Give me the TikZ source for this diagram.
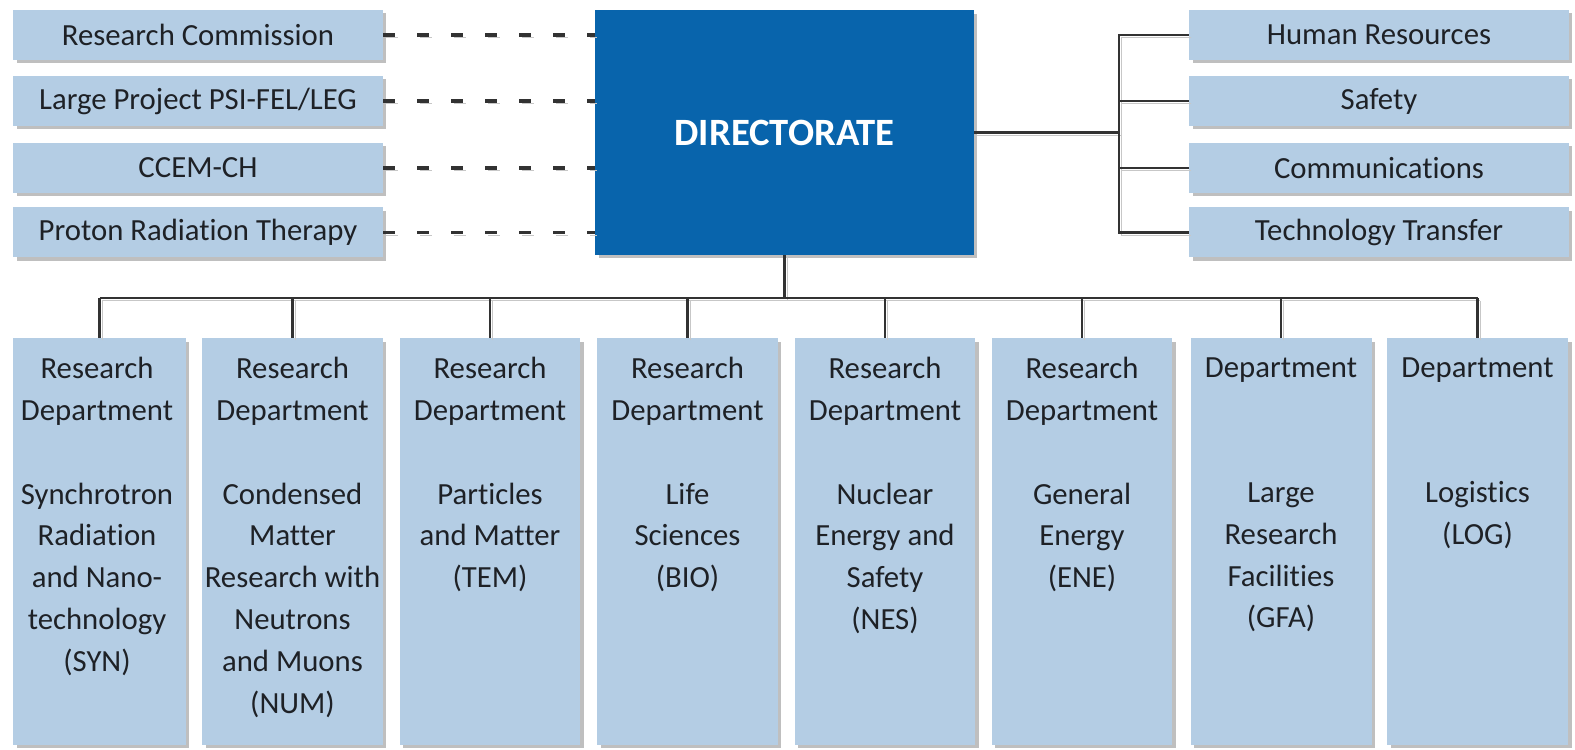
\documentclass[tikz,border=0pt]{standalone}
\usepackage{fontspec}
\setmainfont{Carlito}[Ligatures=CommonOff]
\usepackage{tikz}
\usetikzlibrary{shadows}
\usepackage{xcolor}

\definecolor{boxblue}{RGB}{180,205,228}
\definecolor{dirblue}{RGB}{8,100,172}
\definecolor{linegray}{RGB}{50,50,50}
\definecolor{txtgray}{RGB}{30,33,38}

\tikzset{
  softshadow/.style={drop shadow={shadow xshift=0.07cm,shadow yshift=-0.07cm,fill=black!55,opacity=0.45}},
  unit/.style={fill=boxblue,text=txtgray,font=\fontsize{17.5}{21}\selectfont,
    minimum width=7.4cm,minimum height=1cm,inner sep=0pt,softshadow},
  staff/.style={unit,minimum width=7.6cm},
  dept/.style={fill=boxblue,minimum width=3.62cm,minimum height=8.14cm,inner sep=0pt,softshadow},
  depttext/.style={anchor=north,align=center,text=txtgray,inner sep=0pt,
    font=\fontsize{17.5}{23.8}\selectfont},
  conn/.style={draw=linegray,line width=1.6pt,
    preaction={draw=black!22,transform canvas={shift={(1.5pt,-1.5pt)}}}},
  dashconn/.style={draw=linegray,line width=1.8pt,dash pattern=on 0.24cm off 0.44cm,
    preaction={draw=black!22,dash pattern=on 0.24cm off 0.44cm,
      transform canvas={shift={(1.5pt,-1.5pt)}}}}
}

\begin{document}
\begin{tikzpicture}[x=0.02cm,y=0.02cm]
\path[use as bounding box,fill=white] (0,0) rectangle (1575,750);

% directorate and the units next to it
\node[fill=dirblue,text=white,minimum width=7.58cm,minimum height=4.9cm,softshadow,
  font=\bfseries\fontsize{22}{26}\selectfont] (dir) at (784.5,617.5) {DIRECTORATE};

\node[unit] (rc) at (198,715) {Research Commission};
\node[unit] (lp) at (198,649) {Large Project PSI-FEL/LEG};
\node[unit] (cc) at (198,582) {CCEM-CH};
\node[unit] (prt) at (198,517.5) {Proton Radiation Therapy};

\node[staff] (hr) at (1379,715) {Human Resources};
\node[staff] (saf) at (1379,649) {Safety};
\node[staff] (com) at (1379,582) {Communications};
\node[staff] (tt) at (1379,517.5) {Technology Transfer};

\draw[dashconn] (rc.east) -- (rc.east -| dir.west);
\draw[dashconn] (lp.east) -- (lp.east -| dir.west);
\draw[dashconn] (cc.east) -- (cc.east -| dir.west);
\draw[dashconn] (prt.east) -- (prt.east -| dir.west);

\coordinate (fork) at (1119,617.5);
\draw[conn] (dir.east) -- (dir.east -| fork);
\draw[conn] (hr.west) -- (hr.west -| fork) -- (tt.west -| fork) -- (tt.west);
\draw[conn] (saf.west) -- (saf.west -| fork);
\draw[conn] (com.west) -- (com.west -| fork);

% departments
\node[dept,minimum width=3.46cm] (syn) at (99.5,208.5) {};
\node[dept] (num) at (292.5,208.5) {};
\node[dept] (tem) at (490,208.5) {};
\node[dept] (bio) at (687.5,208.5) {};
\node[dept] (nes) at (885,208.5) {};
\node[dept] (ene) at (1082,208.5) {};
\node[dept] (gfa) at (1281,208.5) {};
\node[dept] (log) at (1477.5,208.5) {};

\node[depttext] (syntxt) at (97,393) {Research\\Department\\[23.8pt]Synchrotron\\Radiation\\and Nano-\\technology\\(SYN)};
\node[depttext] (numtxt) at (292.5,393) {Research\\Department\\[23.8pt]Condensed\\Matter\\Research with\\Neutrons\\and Muons\\(NUM)};
\node[depttext] (temtxt) at (490,393) {Research\\Department\\[23.8pt]Particles\\and Matter\\(TEM)};
\node[depttext] (biotxt) at (687.5,393) {Research\\Department\\[23.8pt]Life\\Sciences\\(BIO)};
\node[depttext] (nestxt) at (885,393) {Research\\Department\\[23.8pt]Nuclear\\Energy and\\Safety\\(NES)};
\node[depttext] (enetxt) at (1082,393) {Research\\Department\\[23.8pt]General\\Energy\\(ENE)};
\node[depttext] (gfatxt) at (1281,393) {Department\\[47.6pt]Large\\Research\\Facilities\\(GFA)};
\node[depttext] (logtxt) at (1477.5,393) {Department\\[47.6pt]Logistics\\(LOG)};

\coordinate (bus) at (784.5,452);
\draw[conn] (dir.south) -- (dir.south |- bus);
\draw[conn] (syn.north |- bus) -- (log.north |- bus);
\draw[conn] (syn.north) -- (syn.north |- bus);
\draw[conn] (num.north) -- (num.north |- bus);
\draw[conn] (tem.north) -- (tem.north |- bus);
\draw[conn] (bio.north) -- (bio.north |- bus);
\draw[conn] (nes.north) -- (nes.north |- bus);
\draw[conn] (ene.north) -- (ene.north |- bus);
\draw[conn] (gfa.north) -- (gfa.north |- bus);
\draw[conn] (log.north) -- (log.north |- bus);
\end{tikzpicture}
\end{document}
